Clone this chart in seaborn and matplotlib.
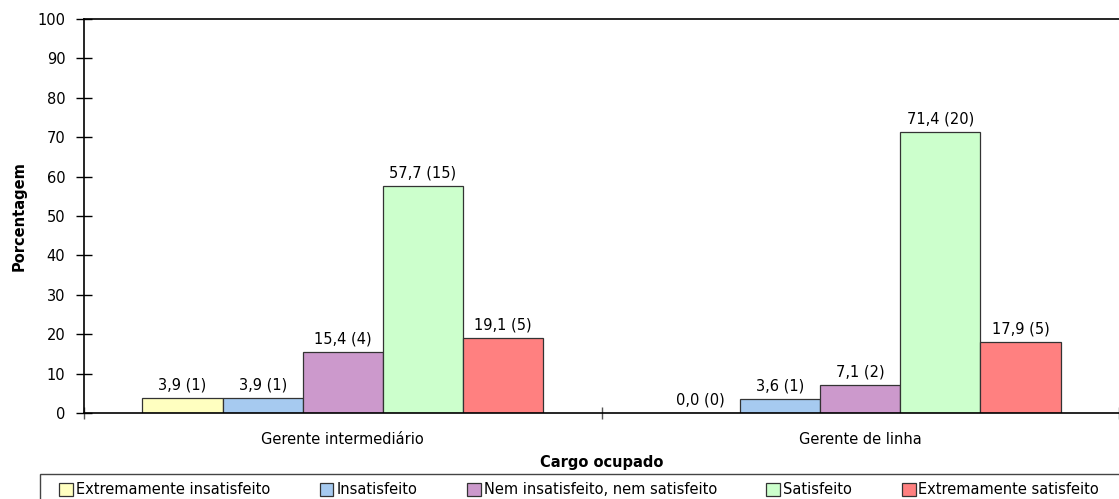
import matplotlib
matplotlib.use("Agg")
import matplotlib.pyplot as plt
from matplotlib.patches import Rectangle
import seaborn as sns
import pandas as pd

categories = ["Gerente intermediário", "Gerente de linha"]
levels = ["Extremamente insatisfeito", "Insatisfeito",
          "Nem insatisfeito, nem satisfeito", "Satisfeito",
          "Extremamente satisfeito"]
# percentage per satisfaction level, one list per job position
pct_intermediario = [3.9, 3.9, 15.4, 57.7, 19.1]
pct_linha = [0.0, 3.6, 7.1, 71.4, 17.9]
# respondent counts shown in parentheses
n_intermediario = [1, 1, 4, 15, 5]
n_linha = [0, 1, 2, 20, 5]
colors = ["#FFFFC0", "#A6CAF0", "#CC99CC", "#CCFFCC", "#FF8080"]
yticks = list(range(0, 101, 10))

rows = []
for cat, pcts, ns in [(categories[0], pct_intermediario, n_intermediario),
                      (categories[1], pct_linha, n_linha)]:
    for lvl, p, n in zip(levels, pcts, ns):
        rows.append({"Cargo": cat, "Nivel": lvl, "Pct": p, "N": n})
df = pd.DataFrame(rows)

sns.set_theme(style="white")
plt.rcParams["font.family"] = ["DejaVu Sans"]
plt.rcParams["text.color"] = "black"
plt.rcParams["xtick.color"] = "black"
plt.rcParams["ytick.color"] = "black"
plt.rcParams["axes.labelcolor"] = "black"
FS = 10.5

W, H = 1119, 499
fig = plt.figure(figsize=(W / 100, H / 100), dpi=100)
ax = fig.add_axes([84 / W, 1 - 413 / H, 1 - 84 / W, (413 - 19) / H])

sns.barplot(data=df, x="Cargo", y="Pct", hue="Nivel", order=categories,
            hue_order=levels, palette=colors, width=0.774, saturation=1,
            edgecolor="#333333", linewidth=0.9, ax=ax, legend=True)

for lvl, cont in zip(levels, ax.containers):
    sub = df[df["Nivel"] == lvl].set_index("Cargo").loc[categories]
    labels = [f"{p:.1f}".replace(".", ",") + f" ({n})"
              for p, n in zip(sub["Pct"], sub["N"])]
    ax.bar_label(cont, labels=labels, padding=4, fontsize=FS, color="black")

ax.set_xlim(-0.5, 1.5)
ax.set_ylim(0, 100)
ax.set_yticks(yticks)
ax.set_yticklabels([str(t) for t in yticks], fontsize=FS)
ax.tick_params(axis="y", direction="inout", length=11, width=1, pad=8,
               left=True, color="black")
ax.set_xticks([0, 1])
ax.set_xticklabels(categories, fontsize=FS)
ax.tick_params(axis="x", which="major", length=0, pad=14)
ax.set_xticks([-0.5, 0.5, 1.5], minor=True)
ax.tick_params(axis="x", which="minor", direction="inout", length=8,
               width=1, bottom=True, color="#555555")

for side in ["left", "bottom", "top"]:
    ax.spines[side].set_visible(True)
    ax.spines[side].set_color("black")
    ax.spines[side].set_linewidth(1.2)
ax.spines["right"].set_visible(False)

ax.set_ylabel("Porcentagem", fontsize=FS, fontweight="bold")
ax.yaxis.set_label_coords((27 - 84) / (W - 84), 0.5)
ax.set_xlabel("Cargo ocupado", fontsize=FS, fontweight="bold")
ax.xaxis.set_label_coords(0.5, -(467 - 413) / (413 - 19))
ax.xaxis.label.set_va("baseline")

handles, labs = ax.get_legend_handles_labels()
ax.get_legend().remove()
leg = fig.legend(handles, labs, loc="center left",
                 bbox_to_anchor=(59 / W, 1 - 490 / H),
                 ncol=5, frameon=False, fontsize=FS,
                 handlelength=0.95, handleheight=0.95, handletextpad=0.2,
                 columnspacing=3.4, borderpad=0.0, borderaxespad=0)
for h in leg.legend_handles:
    h.set_edgecolor("#333333")
    h.set_linewidth(0.9)

# legend frame running off the right and bottom edges
fig.patches.append(Rectangle((40 / W, -0.05), 1.0, (H - 474) / H + 0.05,
                             transform=fig.transFigure, fill=False,
                             edgecolor="#444444", linewidth=1.0))

fig.savefig("out.png", dpi=100)
